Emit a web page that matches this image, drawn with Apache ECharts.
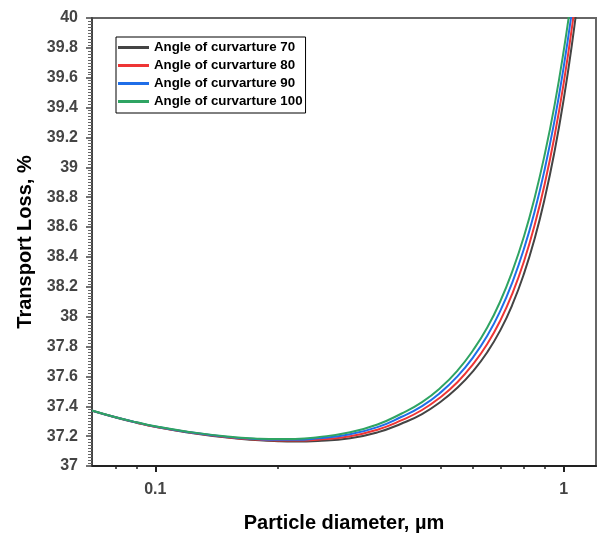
<!DOCTYPE html>
<html>
<head>
<meta charset="utf-8">
<script src="https://cdn.jsdelivr.net/npm/echarts@6/dist/echarts.min.js"></script>
<style>
  html, body { margin: 0; padding: 0; background: #fff; }
  #chart { width: 598px; height: 538px; }
</style>
</head>
<body>
<div id="chart"></div>
<script>
// particle diameter, um
var diameters = [0.07, 0.08, 0.09, 0.1, 0.12, 0.15, 0.18, 0.2, 0.22, 0.25, 0.3, 0.35, 0.4, 0.45,
  0.5, 0.55, 0.6, 0.65, 0.7, 0.75, 0.8, 0.85, 0.9, 0.95, 1.0, 1.05, 1.1, 1.15];

// transport loss, % (one list per angle of curvature)
var loss70 = [37.37, 37.325, 37.29, 37.262, 37.225, 37.19, 37.172, 37.166, 37.164, 37.168, 37.186, 37.225, 37.283, 37.348,
  37.43, 37.525, 37.635, 37.762, 37.91, 38.085, 38.29, 38.527, 38.799, 39.107, 39.454, 39.842, 40.275, 40.753];
var loss80 = [37.371, 37.326, 37.291, 37.263, 37.227, 37.193, 37.176, 37.171, 37.17, 37.176, 37.199, 37.243, 37.305, 37.375,
  37.462, 37.563, 37.682, 37.817, 37.975, 38.16, 38.373, 38.619, 38.897, 39.21, 39.562, 39.954, 40.39, 40.871];
var loss90 = [37.371, 37.326, 37.292, 37.265, 37.228, 37.195, 37.179, 37.175, 37.175, 37.185, 37.213, 37.26, 37.328, 37.401,
  37.493, 37.602, 37.728, 37.872, 38.04, 38.235, 38.457, 38.71, 38.996, 39.314, 39.671, 40.065, 40.505, 40.99];
var loss100 = [37.372, 37.327, 37.293, 37.266, 37.23, 37.198, 37.183, 37.18, 37.181, 37.193, 37.226, 37.278, 37.35, 37.428,
  37.525, 37.64, 37.775, 37.927, 38.105, 38.31, 38.54, 38.802, 39.094, 39.417, 39.779, 40.177, 40.62, 41.108];

var names = ["Angle of curvarture 70", "Angle of curvarture 80", "Angle of curvarture 90", "Angle of curvarture 100"];
var colors = ["#444444", "#ee3535", "#1f6ee8", "#2fa463"];

var majorX = [0.1, 1];
var minorX = [0.08, 0.09, 0.2, 0.3, 0.4, 0.5, 0.6, 0.7, 0.8, 0.9];

function pairs(vals) {
  return diameters.map(function (d, i) { return [d, vals[i]]; });
}

var chart = echarts.init(document.getElementById("chart"));
var family = "Liberation Sans, Arial, sans-serif";
var labelFont = { fontFamily: family, fontWeight: "bold", fontSize: 16, color: "#444" };
var nameFont = { fontFamily: family, fontWeight: "bold", fontSize: 20, color: "#000" };

var option = {
  animation: false,
  color: colors,
  grid: {
    left: 92, right: 2, top: 18, bottom: 71,
    show: true, borderColor: "#666", borderWidth: 2
  },
  legend: {
    orient: "vertical",
    left: 116, top: 37,
    padding: [4, 3, 5, 2],
    icon: "rect",
    itemWidth: 31, itemHeight: 3, itemGap: 5,
    borderColor: "#000", borderWidth: 1,
    textStyle: { fontFamily: family, fontWeight: "bold", fontSize: 13.3, color: "#000" },
    data: names
  },
  xAxis: [
    {
      type: "log", logBase: 10, min: 0.07, max: 1.2,
      name: "Particle diameter, µm", nameLocation: "middle", nameGap: 47, nameTextStyle: nameFont,
      axisLine: { lineStyle: { color: "#222", width: 2 } },
      axisTick: { customValues: majorX, length: 6, lineStyle: { color: "#222", width: 2 } },
      axisLabel: Object.assign({ customValues: majorX, margin: 16 }, labelFont),
      splitLine: { show: false }, minorSplitLine: { show: false }
    },
    {
      type: "log", logBase: 10, min: 0.07, max: 1.2, position: "bottom",
      axisLine: { show: false },
      axisTick: { customValues: minorX, length: 3, lineStyle: { color: "#222", width: 1.5 } },
      axisLabel: { show: false },
      splitLine: { show: false }
    }
  ],
  yAxis: {
    type: "value", min: 37, max: 40, interval: 0.2,
    name: "Transport Loss, %", nameLocation: "middle", nameGap: 57, nameTextStyle: nameFont,
    axisLine: { lineStyle: { color: "#444", width: 2 } },
    axisTick: { length: 6, lineStyle: { color: "#444", width: 1.5 } },
    minorTick: { show: true, splitNumber: 10, length: 4, lineStyle: { color: "#666", width: 1 } },
    axisLabel: Object.assign({ margin: 14 }, labelFont),
    splitLine: { show: false }
  },
  series: [loss70, loss80, loss90, loss100].map(function (vals, i) {
    return {
      name: names[i],
      type: "line",
      smooth: 0.5,
      symbol: "none",
      clip: true,
      lineStyle: { width: 2, color: colors[i] },
      data: pairs(vals)
    };
  })
};
chart.setOption(option);
</script>
</body>
</html>
